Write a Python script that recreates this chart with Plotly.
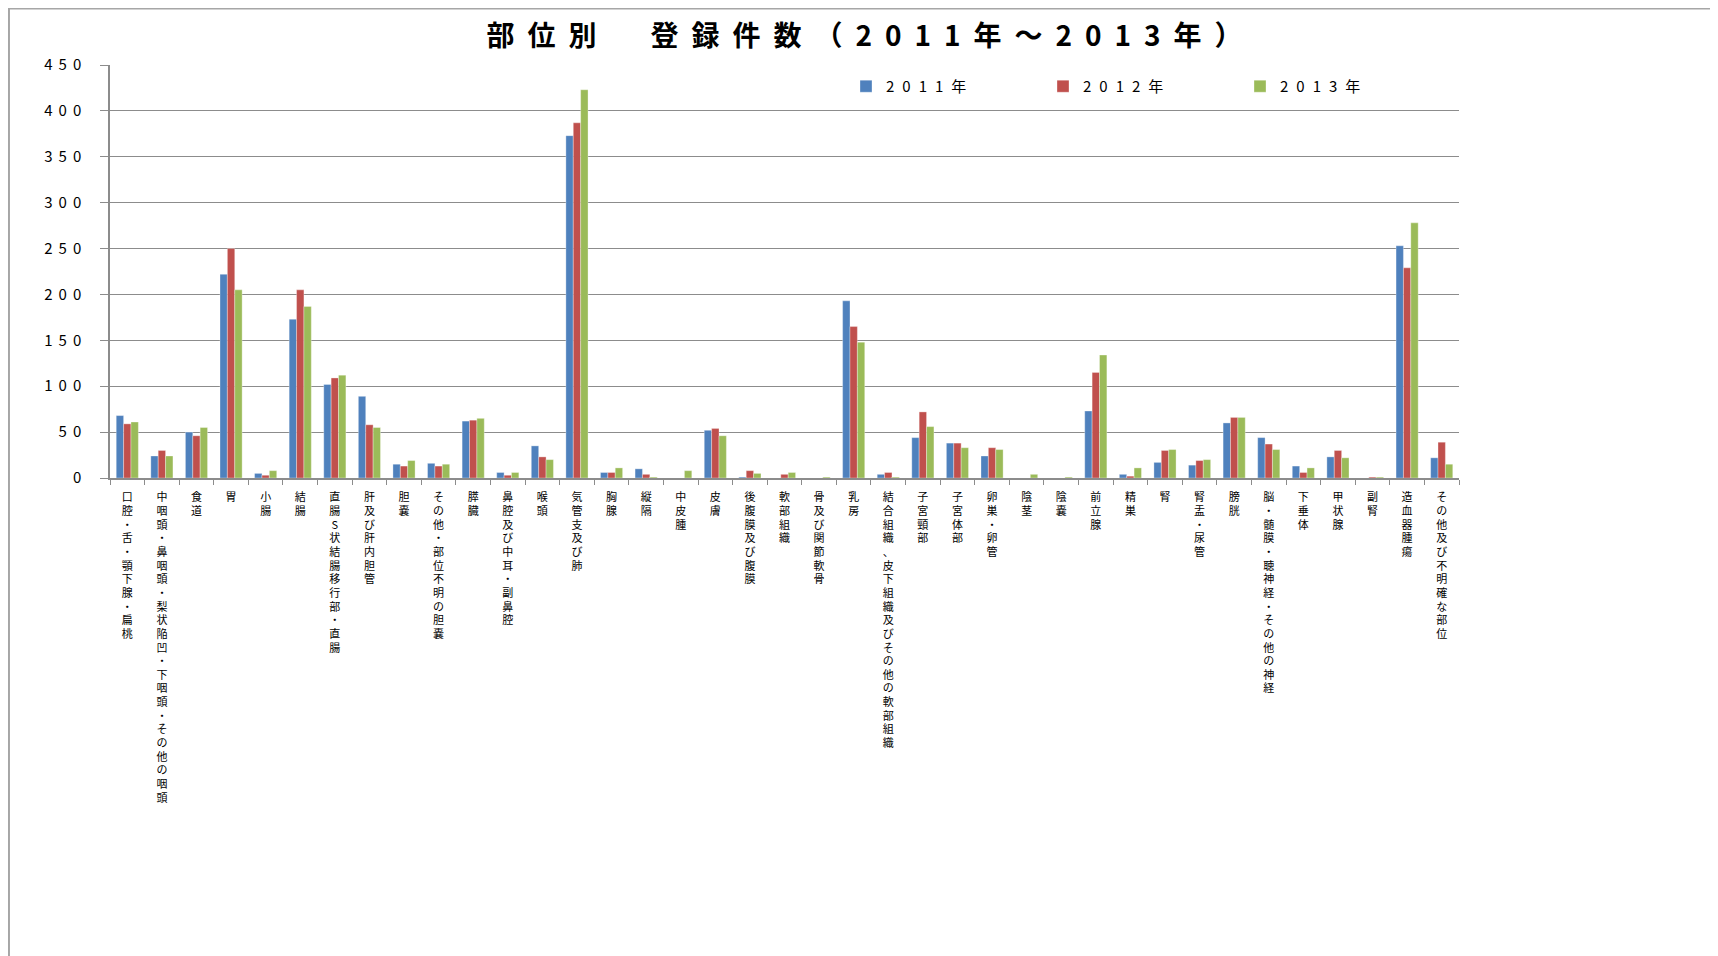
import plotly.graph_objects as go

categories = [
    "口腔・舌・顎下腺・扁桃",
    "中咽頭・鼻咽頭・梨状陥凹・下咽頭・その他の咽頭",
    "食道", "胃", "小腸", "結腸",
    "直腸S状結腸移行部・直腸",
    "肝及び肝内胆管", "胆嚢", "その他・部位不明の胆嚢", "膵臓",
    "鼻腔及び中耳・副鼻腔", "喉頭", "気管支及び肺", "胸腺", "縦隔", "中皮腫",
    "皮膚", "後腹膜及び腹膜", "軟部組織", "骨及び関節軟骨", "乳房",
    "結合組織、皮下組織及びその他の軟部組織",
    "子宮頸部", "子宮体部", "卵巣・卵管", "陰茎", "陰嚢", "前立腺", "精巣",
    "腎", "腎盂・尿管", "膀胱", "脳・髄膜・聴神経・その他の神経", "下垂体",
    "甲状腺", "副腎", "造血器腫瘍", "その他及び不明確な部位",
]

v2011 = [68, 24, 50, 222, 5, 173, 102, 89, 15, 16, 62, 6, 35, 373, 6, 10, 0,
         52, 1, 0, 0, 193, 4, 44, 38, 24, 0, 0, 73, 4, 17, 14, 60, 44, 13,
         23, 0, 253, 22]
v2012 = [59, 30, 46, 250, 3, 205, 109, 58, 13, 13, 63, 3, 23, 387, 6, 4, 0,
         54, 8, 4, 0, 165, 6, 72, 38, 33, 0, 0, 115, 2, 30, 19, 66, 37, 6,
         30, 1, 229, 39]
v2013 = [61, 24, 55, 205, 8, 187, 112, 55, 19, 15, 65, 6, 20, 423, 11, 1, 8,
         46, 5, 6, 1, 148, 1, 56, 33, 31, 4, 1, 134, 11, 31, 20, 66, 31, 11,
         22, 1, 278, 15]

series_names = ["2011年", "2012年", "2013年"]
series_values = [v2011, v2012, v2013]
colors = ["#4F81BD", "#C0504D", "#9BBB59"]
y_ticks = list(range(0, 451, 50))
title_text = "部位別　登録件数（2011年～2013年）"

FONT = "Noto Sans CJK JP"
GRID = "#8C8C8C"
W, H = 1710, 948


def vertical(label):
    return "<br>".join(f"<span style='font-size:11px'>{ch}</span>" for ch in label)


def spaced(text, px):
    return f"<span style='letter-spacing:{px}px'>{text}</span>"


fig = go.Figure()
for name, vals, col in zip(series_names, series_values, colors):
    fig.add_trace(go.Bar(
        x=categories, y=vals, name=spaced(name, 8),
        marker=dict(color=col, line=dict(color="rgba(255,255,255,0.55)", width=0.6)),
    ))

fig.update_layout(
    width=W, height=H,
    margin=dict(l=102, r=259, t=57, b=H - 57 - 413.3, autoexpand=False),
    paper_bgcolor="white", plot_bgcolor="white",
    barmode="group", bargap=0.36, bargroupgap=0,
    font=dict(family=FONT, color="black"),
    title=dict(
        text="<b>" + spaced(title_text, 13) + "</b>",
        x=863 / W, xref="container", xanchor="center",
        y=1 - 28.5 / H, yref="container", yanchor="middle",
        font=dict(size=28, color="black", family=FONT),
    ),
    legend=dict(
        orientation="h", x=0.5456, xanchor="left", y=0.948, yanchor="middle",
        entrywidth=152, entrywidthmode="pixels", font=dict(size=15, color="black"),
        bgcolor="rgba(0,0,0,0)", traceorder="normal",
    ),
    shapes=[dict(
        type="rect", xref="paper", yref="paper",
        x0=-0.0749, x1=1.3, y0=-1.5, y1=1.137,
        line=dict(color="#A6A6A6", width=2), layer="below",
    )],
)

fig.update_xaxes(
    type="category", tickvals=categories, ticktext=[vertical(c) for c in categories],
    tickangle=0, tickson="boundaries", ticks="outside", ticklen=5, tickcolor=GRID,
    showline=True, linecolor=GRID, linewidth=1.5, showgrid=False,
    tickfont=dict(size=10.5, family=FONT, color="black"), ticklabelstandoff=9,
    range=[-0.5, len(categories) - 0.5],
)
fig.update_yaxes(
    range=[0, 450], tickvals=y_ticks, ticktext=[spaced(str(t), 6) for t in y_ticks],
    showgrid=True, gridcolor=GRID, gridwidth=1, zeroline=False,
    showline=True, linecolor=GRID, linewidth=1.5,
    ticks="outside", ticklen=8, tickcolor=GRID, ticklabelstandoff=10,
    tickfont=dict(size=15, family=FONT, color="black"),
)

fig.write_html("out.html")
